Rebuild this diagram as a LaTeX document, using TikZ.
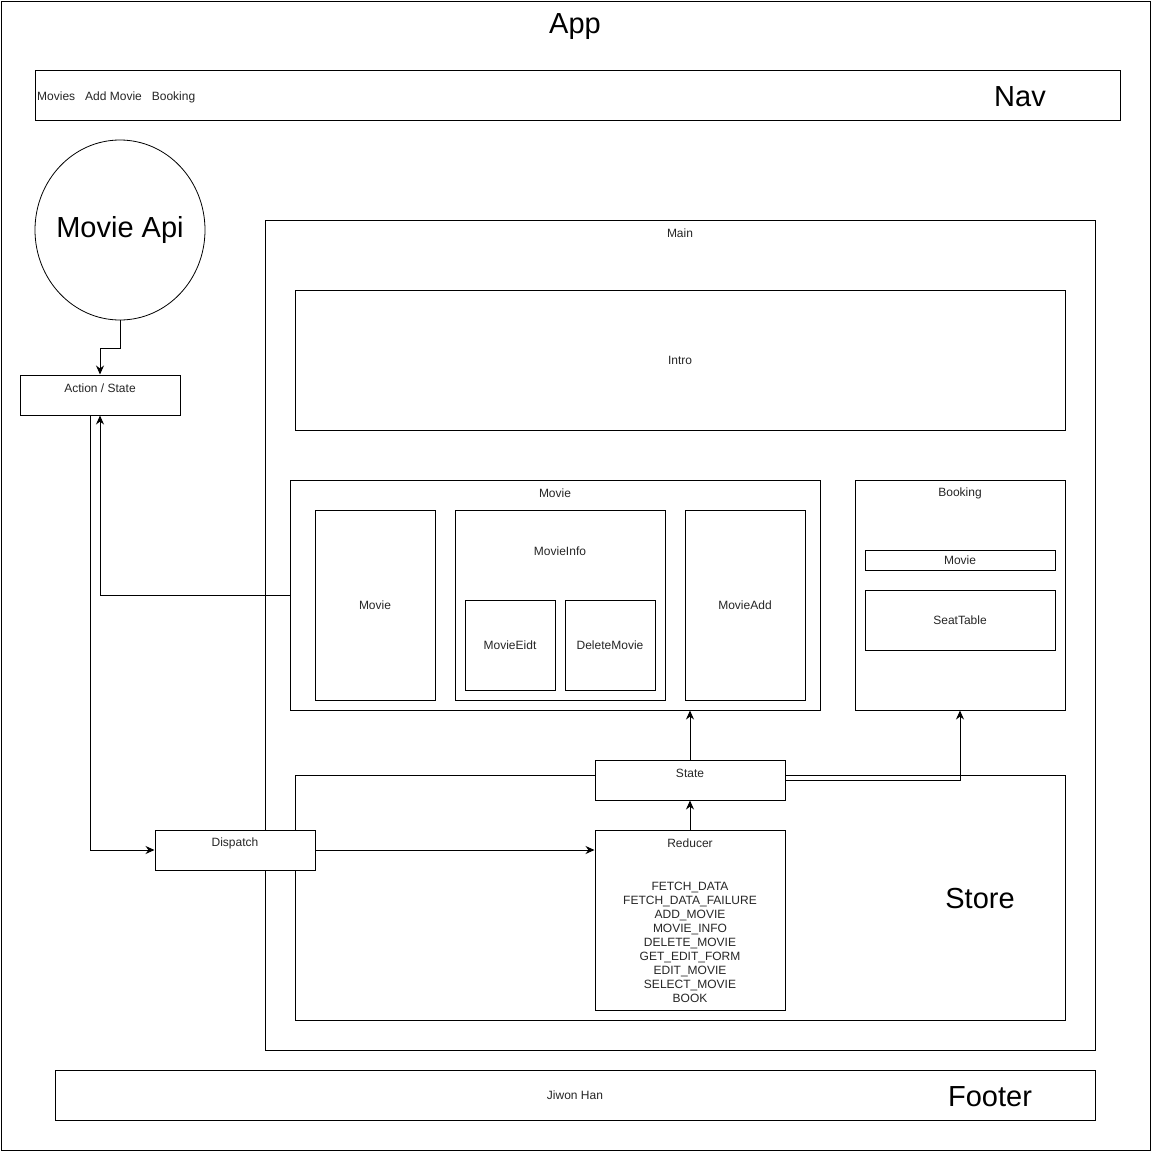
\documentclass[tikz,border=0pt]{standalone}
\usepackage{fontspec}
\setmainfont{Liberation Sans}
\usetikzlibrary{positioning,arrows.meta,shapes.geometric}

\begin{document}
\begin{tikzpicture}
[x=1pt,y=-1pt,
 box/.style={rectangle,draw,line width=1pt,fill=white,inner sep=0pt},
 txt/.style={font=\fontsize{12}{14}\selectfont,text=black!85,inner sep=0pt},
 big/.style={font=\fontsize{29}{34}\selectfont,inner sep=0pt},
 arr/.style={-{Stealth[length=9pt,width=8pt]},line width=1pt}]
\useasboundingbox (0,0) rectangle (1151,1151);
\node[box,minimum width=1149pt,minimum height=1149pt] (app) at (575.5,575.5) {};
\node[big] (apptitle) at (575,27) {App};
\node[box,minimum width=1085pt,minimum height=50pt] (nav) at (577.5,95) {};
\node[txt,anchor=west] (navlinks) at (37,97) {Movies\ \ \ Add Movie\ \ \ Booking};
\node[big] (navtitle) at (1020,97) {Nav};
\node[box,ellipse,line width=0.8pt,minimum width=170pt,minimum height=180pt] (api) at (120,230) {};
\node[big] (apititle) at (api.center) {Movie Api};
\node[box,txt,minimum width=160pt,minimum height=40pt] (act) at (100,395) {};
\node[txt] (acttitle) at ([yshift=-14pt]act.north) {Action / State};
\node[box,minimum width=830pt,minimum height=830pt] (main) at (680,635) {};
\node[txt] (maintitle) at ([yshift=-14pt]main.north) {Main};
\node[box,txt,minimum width=770pt,minimum height=140pt] (intro) at (680,360) {Intro};
\node[box,minimum width=530pt,minimum height=230pt] (movie) at (555,595) {};
\node[txt] (movietitle) at ([yshift=-14pt]movie.north) {Movie};
\node[box,txt,minimum width=120pt,minimum height=190pt] (movieitem) at (375,605) {Movie};
\node[box,minimum width=210pt,minimum height=190pt] (info) at (560,605) {};
\node[txt] (infotitle) at ([yshift=-42pt]info.north) {MovieInfo};
\node[box,txt,minimum width=90pt,minimum height=90pt] (edit) at (510,645) {MovieEidt};
\node[box,txt,minimum width=90pt,minimum height=90pt] (delete) at (610,645) {DeleteMovie};
\node[box,txt,minimum width=120pt,minimum height=190pt] (add) at (745,605) {MovieAdd};
\node[box,minimum width=210pt,minimum height=230pt] (booking) at (960,595) {};
\node[txt] (bookingtitle) at ([yshift=-14pt]booking.north) {Booking};
\node[box,txt,minimum width=190pt,minimum height=20pt] (bmovie) at (960,560) {Movie};
\node[box,txt,minimum width=190pt,minimum height=60pt] (seat) at (960,620) {SeatTable};
\node[box,minimum width=770pt,minimum height=245pt] (store) at (680,897.5) {};
\node[big] (storetitle) at (980,899) {Store};
\node[box,minimum width=160pt,minimum height=40pt] (dispatch) at (235,850) {};
\node[txt] (dispatchtitle) at ([yshift=-14pt]dispatch.north) {Dispatch};
\node[box,minimum width=190pt,minimum height=40pt] (state) at (690,780) {};
\node[txt] (statetitle) at ([yshift=-14pt]state.north) {State};
\node[box,minimum width=190pt,minimum height=180pt] (reducer) at (690,920) {};
\node[txt] (reducertitle) at ([yshift=-14pt]reducer.north) {Reducer};
\node[txt,align=center] (actions) at (690,942) {FETCH\_DATA\\FETCH\_DATA\_FAILURE\\ADD\_MOVIE\\MOVIE\_INFO\\DELETE\_MOVIE\\GET\_EDIT\_FORM\\EDIT\_MOVIE\\SELECT\_MOVIE\\BOOK};
\node[box,txt,minimum width=1040pt,minimum height=50pt] (footer) at (575,1095) {Jiwon Han};
\node[big] (footertitle) at (990,1097) {Footer};
\draw [arr] (api.south) -- ++(0,28) -| (act.north);
\draw [arr] (movie.west) -| (act.south);
\draw [arr] ([xshift=-10pt]act.south) |- (dispatch.west);
\draw [arr] (dispatch.east) -- (dispatch.east -| reducer.west);
\draw [arr] (reducer.north) -- (state.south);
\draw [arr] (state.north) -- (state.north |- movie.south);
\draw [arr] (state.east) -| (booking.south);
\end{tikzpicture}
\end{document}
